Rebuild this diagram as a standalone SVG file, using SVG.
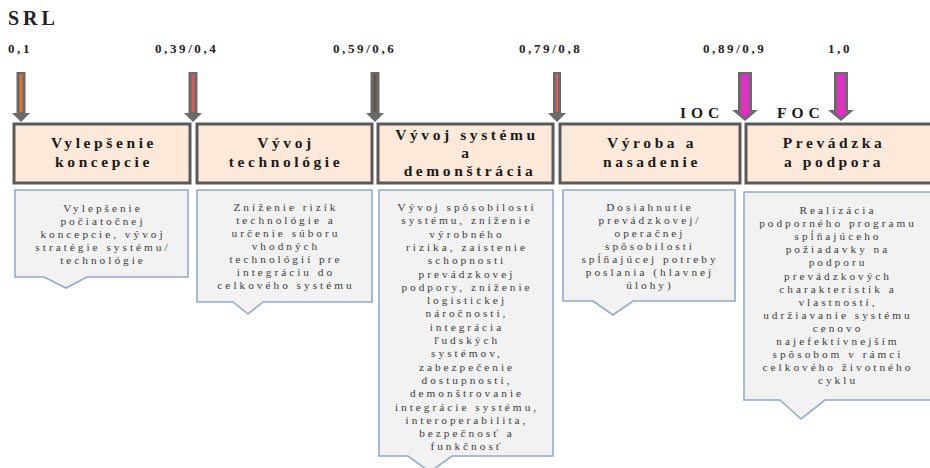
<svg xmlns="http://www.w3.org/2000/svg" width="930" height="468" viewBox="0 0 930 468">
<style>
.lvl{font-family:"Liberation Serif",serif;font-weight:bold;font-size:13px;letter-spacing:2.6px;fill:#222}
.hd{font-family:"Liberation Serif",serif;font-weight:bold;font-size:15.5px;letter-spacing:3.6px;fill:#1a1a1a;text-anchor:middle}
.hbox{fill:#fde9d9;stroke:#5a5a5a;stroke-width:3}
.cbox{fill:#f2f2f2;stroke:#93aacb;stroke-width:1.6}
.ct{font-family:"Liberation Serif",serif;font-size:11.3px;letter-spacing:3px;fill:#3c3c3c;text-anchor:middle}
.ag{fill:#6a6a6a}
</style>
<rect width="930" height="468" fill="#ffffff"/>
<text x="8" y="25" font-family="Liberation Serif,serif" font-weight="bold" font-size="20" letter-spacing="4" fill="#222">SRL</text>
<g id="levels">
<text class="lvl" x="8" y="53">0,1</text>
<text class="lvl" x="155" y="53">0,39/0,4</text>
<text class="lvl" x="333" y="53">0,59/0,6</text>
<text class="lvl" x="519" y="53">0,79/0,8</text>
<text class="lvl" x="703" y="53">0,89/0,9</text>
<text class="lvl" x="828" y="53">1,0</text>
<text x="680" y="118" font-family="Liberation Serif,serif" font-weight="bold" font-size="15.5" letter-spacing="5" fill="#1a1a1a">IOC</text>
<text x="777" y="118" font-family="Liberation Serif,serif" font-weight="bold" font-size="15.5" letter-spacing="5" fill="#1a1a1a">FOC</text>
</g>
<g id="connectors">
<g id="arrow1"><polygon class="ag" points="16.5,72 25.5,72 25.5,113 30,113 21,122 12,113 16.5,113"/><rect x="19.5" y="74" width="3" height="38" fill="#e2702e"/></g>
<g id="arrow2"><polygon class="ag" points="188.5,72 197.5,72 197.5,113 202,113 193,122 184,113 188.5,113"/><rect x="191.5" y="74" width="3" height="38" fill="#d45a5a"/></g>
<g id="arrow3"><polygon class="ag" points="370.5,72 379.5,72 379.5,113 384,113 375,122 366,113 370.5,113"/><rect x="373.5" y="74" width="3" height="38" fill="#6e4e4e"/></g>
<g id="arrow4"><polygon class="ag" points="553,72 561,72 561,113 566,113 557,122 548,113 553,113"/><rect x="555.8" y="74" width="2.4" height="38" fill="#d46060"/></g>
<g id="arrow5"><polygon class="ag" points="738,72 752,72 752,110 758,110 745,121 732,110 738,110"/><polygon points="741,74 749,74 749,111 752,111 745,117 738,111 741,111" fill="#e030c6"/></g>
<g id="arrow6"><polygon class="ag" points="834,72 848,72 848,110 854,110 841,121 828,110 834,110"/><polygon points="837,74 845,74 845,111 848,111 841,117 834,111 837,111" fill="#e030c6"/></g>
</g>
<g id="phase1">
<rect class="hbox" x="14" y="124" width="176" height="59"/>
<text class="hd" x="104" y="148">Vylepšenie</text>
<text class="hd" x="104" y="167">koncepcie</text>
</g>
<g id="phase2">
<rect class="hbox" x="197" y="124" width="175" height="59"/>
<text class="hd" x="286" y="148">Vývoj</text>
<text class="hd" x="286" y="167">technológie</text>
</g>
<g id="phase3">
<rect class="hbox" x="378" y="124" width="175" height="59"/>
<text class="hd" x="467" y="140">Vývoj systému</text>
<text class="hd" x="467" y="158">a</text>
<text class="hd" x="470" y="176">demonštrácia</text>
</g>
<g id="phase4">
<rect class="hbox" x="560" y="124" width="180" height="59"/>
<text class="hd" x="652" y="148">Výroba a</text>
<text class="hd" x="652" y="167">nasadenie</text>
</g>
<g id="phase5">
<rect class="hbox" x="746" y="124" width="190" height="59"/>
<text class="hd" x="834" y="148">Prevádzka</text>
<text class="hd" x="834" y="167">a podpora</text>
</g>
<g id="desc1">
<path class="cbox" d="M15,190 H188 V277 H87 L66,288 L44,277 H15 Z"/>
<text class="ct" x="103" y="212">Vylepšenie</text>
<text class="ct" x="103" y="225">počiatočnej</text>
<text class="ct" x="103" y="238">koncepcie, vývoj</text>
<text class="ct" x="103" y="251">stratégie systému/</text>
<text class="ct" x="103" y="264">technológie</text>
</g>
<g id="desc2">
<path class="cbox" d="M197,190 H372 V302 H263 L248,314 L233,302 H197 Z"/>
<text class="ct" x="286" y="211">Zníženie rizík</text>
<text class="ct" x="286" y="224">technológie a</text>
<text class="ct" x="286" y="237">určenie súboru</text>
<text class="ct" x="286" y="250">vhodných</text>
<text class="ct" x="286" y="263">technológií pre</text>
<text class="ct" x="286" y="276">integráciu do</text>
<text class="ct" x="286" y="289">celkového systému</text>
</g>
<g id="desc3">
<path class="cbox" d="M379,190 H553 V456 H452 L430,472 L408,456 H379 Z"/>
<text class="ct" x="467" y="211">Vývoj spôsobilostí</text>
<text class="ct" x="467" y="224.3">systému, zníženie</text>
<text class="ct" x="467" y="237.6">výrobného</text>
<text class="ct" x="467" y="250.9">rizika, zaistenie</text>
<text class="ct" x="467" y="264.2">schopnosti</text>
<text class="ct" x="467" y="277.5">prevádzkovej</text>
<text class="ct" x="467" y="290.8">podpory, zníženie</text>
<text class="ct" x="467" y="304.1">logistickej</text>
<text class="ct" x="467" y="317.4">náročnosti,</text>
<text class="ct" x="467" y="330.7">integrácia</text>
<text class="ct" x="467" y="344">ľudských</text>
<text class="ct" x="467" y="357.3">systémov,</text>
<text class="ct" x="467" y="370.6">zabezpečenie</text>
<text class="ct" x="467" y="383.9">dostupnosti,</text>
<text class="ct" x="467" y="397.2">demonštrovanie</text>
<text class="ct" x="467" y="410.5">integrácie systému,</text>
<text class="ct" x="467" y="423.8">interoperabilita,</text>
<text class="ct" x="467" y="437.1">bezpečnosť a</text>
<text class="ct" x="467" y="450.4">funkčnosť</text>
</g>
<g id="desc4">
<path class="cbox" d="M563,190 H735 V301 H633 L613,315 L593,301 H563 Z"/>
<text class="ct" x="650" y="211">Dosiahnutie</text>
<text class="ct" x="650" y="224">prevádzkovej/</text>
<text class="ct" x="650" y="237">operačnej</text>
<text class="ct" x="650" y="250">spôsobilosti</text>
<text class="ct" x="650" y="263">spĺňajúcej potreby</text>
<text class="ct" x="650" y="276">poslania (hlavnej</text>
<text class="ct" x="650" y="289">úlohy)</text>
</g>
<g id="desc5">
<path class="cbox" d="M744,192 H936 V400 H825 L801,419 L780,400 H744 Z"/>
<text class="ct" x="838" y="214">Realizácia</text>
<text class="ct" x="838" y="227.1">podporného programu</text>
<text class="ct" x="838" y="240.2">spĺňajúceho</text>
<text class="ct" x="838" y="253.3">požiadavky  na</text>
<text class="ct" x="838" y="266.4">podporu</text>
<text class="ct" x="838" y="279.5">prevádzkových</text>
<text class="ct" x="838" y="292.6">charakteristík a</text>
<text class="ct" x="838" y="305.7">vlastností,</text>
<text class="ct" x="838" y="318.8">udržiavanie systému</text>
<text class="ct" x="838" y="331.9">cenovo</text>
<text class="ct" x="838" y="345">najefektívnejším</text>
<text class="ct" x="838" y="358.1">spôsobom v rámci</text>
<text class="ct" x="838" y="371.2">celkového životného</text>
<text class="ct" x="838" y="384.3">cyklu</text>
</g>
</svg>
